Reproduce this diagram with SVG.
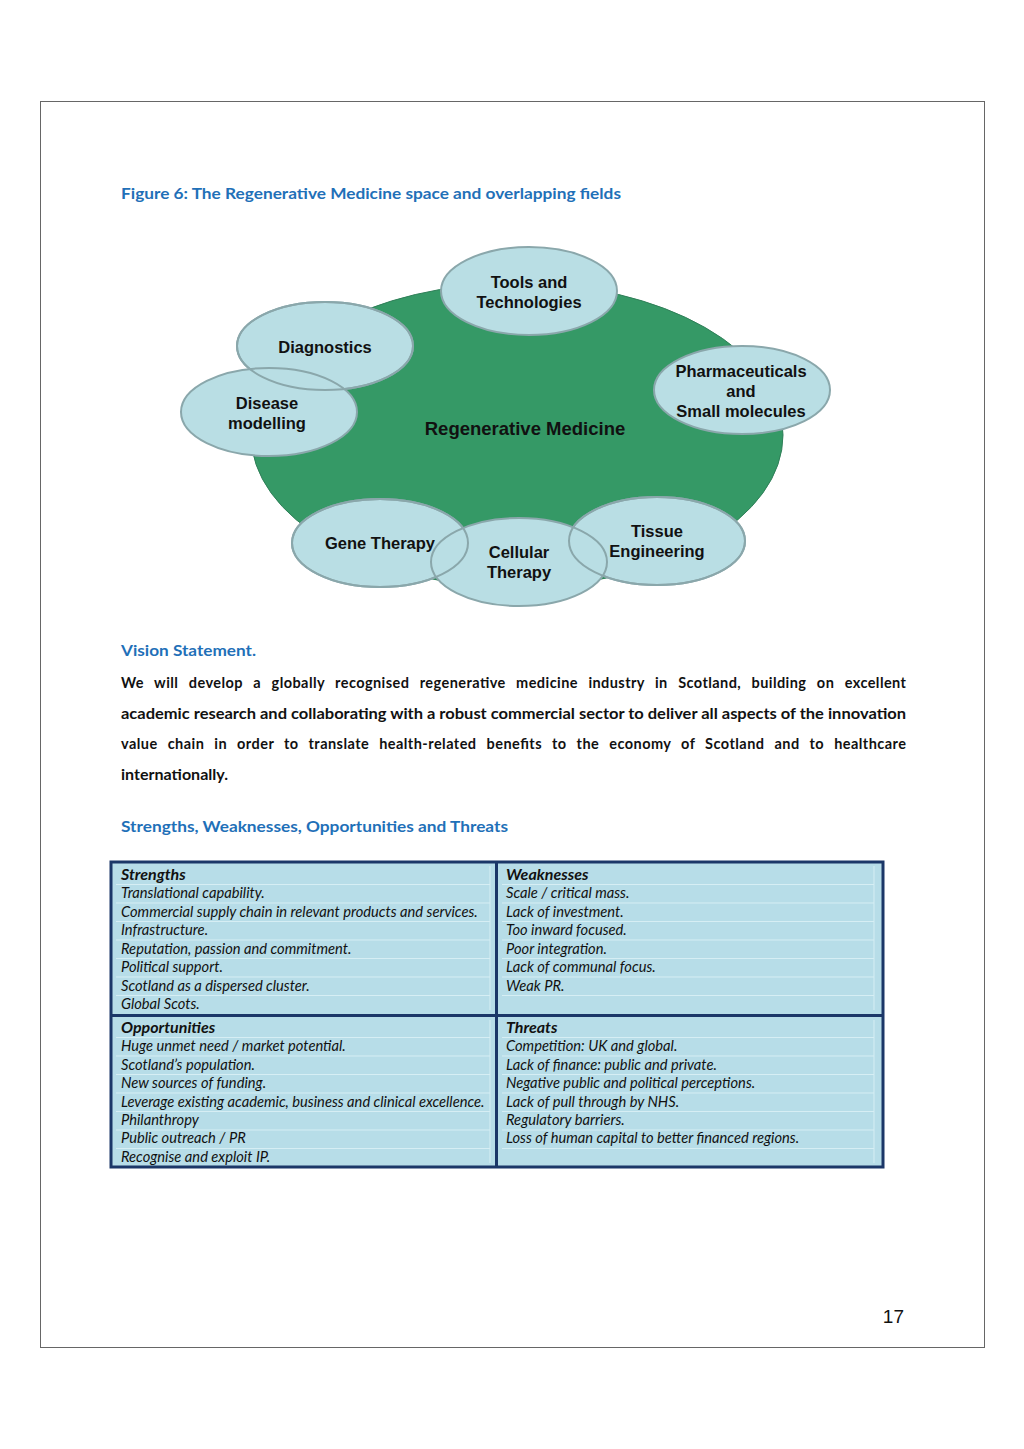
<svg xmlns="http://www.w3.org/2000/svg" width="1024" height="1449" viewBox="0 0 1024 1449">
<style>
.node ellipse{fill:#b9dee4;stroke:#8aa7ab;stroke-width:2}
.ol{fill:none;stroke:#8aa7ab;stroke-width:2}
.nt{font-family:"Liberation Sans",Arial,sans-serif;font-weight:bold;font-size:16.5px;fill:#111;text-anchor:middle}
.hd{font-family:Lato,"Liberation Sans",sans-serif;font-weight:bold;fill:#1f70b8}
.body{font-family:Lato,"Liberation Sans",sans-serif;font-weight:bold;font-size:14.5px;fill:#111}
.tc{font-family:Lato,"Liberation Sans",sans-serif;font-style:italic;font-size:14.7px;fill:#111}
.th{font-family:Lato,"Liberation Sans",sans-serif;font-style:italic;font-weight:bold;font-size:16px;fill:#111}
.sep{stroke:#d6eef4;stroke-width:1}
</style>
<rect width="1024" height="1449" fill="#fff"/>
<rect x="40.5" y="101.5" width="944" height="1246" fill="none" stroke="#666" stroke-width="1"/>

<text class="hd" x="121" y="199" font-size="16" textLength="500" lengthAdjust="spacingAndGlyphs">Figure 6: The Regenerative Medicine space and overlapping fields</text>

<g id="regen-medicine">
<ellipse cx="517" cy="435" rx="266" ry="152" fill="#359966" stroke="#2f7f58" stroke-width="1"/>
<text class="nt" x="525" y="435" style="font-size:18.5px">Regenerative Medicine</text>
</g>

<g id="tools" class="node"><ellipse cx="529" cy="291" rx="88" ry="44"/><text class="nt" x="529" y="288">Tools and</text><text class="nt" x="529" y="308">Technologies</text></g>
<g id="diagnostics" class="node"><ellipse cx="325" cy="346" rx="88" ry="44"/><text class="nt" x="325" y="353">Diagnostics</text></g>
<g id="disease-modelling" class="node"><ellipse cx="269" cy="412" rx="88" ry="44"/><text class="nt" x="267" y="409">Disease</text><text class="nt" x="267" y="429">modelling</text></g>
<g id="pharma" class="node"><ellipse cx="742" cy="390" rx="88" ry="44"/><text class="nt" x="741" y="377">Pharmaceuticals</text><text class="nt" x="741" y="397">and</text><text class="nt" x="741" y="417">Small molecules</text></g>
<g id="gene-therapy" class="node"><ellipse cx="380" cy="543" rx="88" ry="44"/><text class="nt" x="380" y="549">Gene Therapy</text></g>
<g id="tissue-engineering" class="node"><ellipse cx="657" cy="541" rx="88" ry="44"/><text class="nt" x="657" y="537">Tissue</text><text class="nt" x="657" y="557">Engineering</text></g>
<g id="cellular-therapy" class="node"><ellipse cx="519" cy="562" rx="88" ry="44"/><text class="nt" x="519" y="558">Cellular</text><text class="nt" x="519" y="578">Therapy</text></g>
<g id="overlap-outlines">
<ellipse class="ol" cx="325" cy="346" rx="88" ry="44"/>
<ellipse class="ol" cx="380" cy="543" rx="88" ry="44"/>
<ellipse class="ol" cx="657" cy="541" rx="88" ry="44"/>
</g>

<text class="hd" x="121" y="656" font-size="15" textLength="135" lengthAdjust="spacingAndGlyphs">Vision Statement.</text>
<text class="body" x="121" y="688" word-spacing="6.5" textLength="785" lengthAdjust="spacing">We will develop a globally recognised regenerative medicine industry in Scotland, building on excellent</text>
<text class="body" x="121" y="719" textLength="785" lengthAdjust="spacingAndGlyphs">academic research and collaborating with a robust commercial sector to deliver all aspects of the innovation</text>
<text class="body" x="121" y="749" word-spacing="6" textLength="785" lengthAdjust="spacing">value chain in order to translate health-related benefits to the economy of Scotland and to healthcare</text>
<text class="body" x="121" y="780" textLength="107" lengthAdjust="spacingAndGlyphs">internationally.</text>

<text class="hd" x="121" y="832" font-size="15" textLength="387" lengthAdjust="spacingAndGlyphs">Strengths, Weaknesses, Opportunities and Threats</text>

<g id="swot-table">
<rect x="111" y="862" width="772" height="305" fill="#b7dde8"/>
<g id="row-lines">
<path class="sep" d="M116 884.5H490M116 903H490M116 921.5H490M116 940H490M116 958.5H490M116 977H490M116 995.5H490M116 1037.5H490M116 1056H490M116 1074.5H490M116 1093H490M116 1111.5H490M116 1130H490M116 1148.5H490"/>
<path class="sep" d="M502 884.5H874M502 903H874M502 921.5H874M502 940H874M502 958.5H874M502 977H874M502 995.5H874M502 1037.5H874M502 1056H874M502 1074.5H874M502 1093H874M502 1111.5H874M502 1130H874M502 1148.5H874M874 866V1010M874 1020V1163M490 866V1010M490 1020V1163"/>
</g>
<g id="strengths">
<text class="th" x="121" y="880">Strengths</text>
<text class="tc" x="121" y="898">Translational capability.</text>
<text class="tc" x="121" y="917">Commercial supply chain in relevant products and services.</text>
<text class="tc" x="121" y="935">Infrastructure.</text>
<text class="tc" x="121" y="954">Reputation, passion and commitment.</text>
<text class="tc" x="121" y="972">Political support.</text>
<text class="tc" x="121" y="991">Scotland as a dispersed cluster.</text>
<text class="tc" x="121" y="1009">Global Scots.</text>
</g>
<g id="weaknesses">
<text class="th" x="506" y="880">Weaknesses</text>
<text class="tc" x="506" y="898">Scale / critical mass.</text>
<text class="tc" x="506" y="917">Lack of investment.</text>
<text class="tc" x="506" y="935">Too inward focused.</text>
<text class="tc" x="506" y="954">Poor integration.</text>
<text class="tc" x="506" y="972">Lack of communal focus.</text>
<text class="tc" x="506" y="991">Weak PR.</text>
</g>
<g id="opportunities">
<text class="th" x="121" y="1033">Opportunities</text>
<text class="tc" x="121" y="1051">Huge unmet need / market potential.</text>
<text class="tc" x="121" y="1070">Scotland’s population.</text>
<text class="tc" x="121" y="1088">New sources of funding.</text>
<text class="tc" x="121" y="1107">Leverage existing academic, business and clinical excellence.</text>
<text class="tc" x="121" y="1125">Philanthropy</text>
<text class="tc" x="121" y="1143">Public outreach / PR</text>
<text class="tc" x="121" y="1162">Recognise and exploit IP.</text>
</g>
<g id="threats">
<text class="th" x="506" y="1033">Threats</text>
<text class="tc" x="506" y="1051">Competition: UK and global.</text>
<text class="tc" x="506" y="1070">Lack of finance: public and private.</text>
<text class="tc" x="506" y="1088">Negative public and political perceptions.</text>
<text class="tc" x="506" y="1107">Lack of pull through by NHS.</text>
<text class="tc" x="506" y="1125">Regulatory barriers.</text>
<text class="tc" x="506" y="1143">Loss of human capital to better financed regions.</text>
</g>
<g id="table-borders" fill="none" stroke="#1b3768" stroke-width="3">
<rect x="111" y="862" width="772" height="305"/>
<path d="M496.5 862V1167M111 1015.5H883"/>
</g>
</g>

<text x="904" y="1323" font-family="Liberation Sans,Arial,sans-serif" font-size="19" fill="#111" text-anchor="end">17</text>
</svg>
